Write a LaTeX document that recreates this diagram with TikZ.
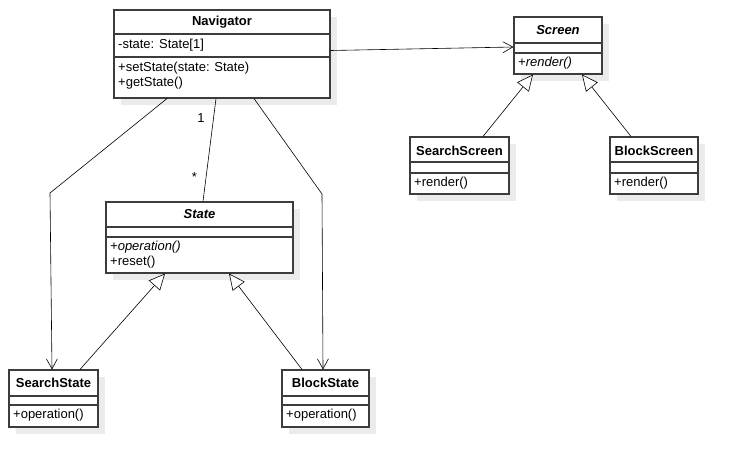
\documentclass[tikz,border=0pt]{standalone}
\usepackage{fontspec}
\setmainfont{Liberation Sans}
\usetikzlibrary{arrows.meta,fit}
\definecolor{shadowc}{HTML}{EBEBEB}
\definecolor{boxc}{HTML}{3C3C3C}
\tikzset{
  boxst/.style={draw=boxc, line width=1.1pt, fill=white, inner sep=0pt},
  divst/.style={draw=boxc, line width=1.1pt},
  txt/.style={anchor=west, inner sep=1pt, font=\fontsize{13}{15}\selectfont},
  ttl/.style={inner sep=1pt, font=\fontsize{13}{15}\selectfont\bfseries},
  assoc/.style={draw=black, line width=0.6pt, -{Straight Barb[length=10pt,width=11pt,line width=0.6pt]}},
  plainline/.style={draw=black, line width=0.6pt},
  gen/.style={draw=black, line width=0.6pt, -{Triangle[open,length=16pt,width=15pt,line width=0.6pt,fill=white]}},
  mult/.style={inner sep=1pt, font=\fontsize{13}{15}\selectfont}
}
\newcommand\umlclass[7]{%
  \fill[shadowc] (#2+7,#3+7) rectangle (#4+7,#5+7);
  \node[boxst, fit={(#2,#3) (#4,#5)}] (#1) {};
  \draw[divst] (#2,#6) -- (#4,#6);
  \draw[divst] (#2,#7) -- (#4,#7);
}
\begin{document}
\begin{tikzpicture}[x=1pt,y=-1pt]
\useasboundingbox (0,0) rectangle (739,467);
% classes
\umlclass{nav}{114}{10}{330}{98}{34}{57}
\node[ttl] (navt) at (222,22.5) {Navigator};
\node[txt] (nava) at (117,45.5) {-state: State[1]};
\node[txt] (navo1) at (117,68.5) {+setState(state: State)};
\node[txt] (navo2) at (117,83) {+getState()};

\umlclass{scr}{514}{17}{602}{74}{43}{53}
\node[ttl, font=\fontsize{13}{15}\selectfont\bfseries\itshape] (scrt) at (558,30.5) {Screen};
\node[txt, font=\fontsize{13}{15}\selectfont\itshape] (scro) at (517,63) {+render()};

\umlclass{ss}{410}{137}{509}{194}{162}{173}
\node[ttl] (sst) at (459.5,150.5) {SearchScreen};
\node[txt] (sso) at (413,183) {+render()};

\umlclass{bs}{610}{137}{698}{194}{162}{173}
\node[ttl] (bst) at (654,150.5) {BlockScreen};
\node[txt] (bso) at (613,183) {+render()};

\umlclass{st}{106}{202}{293}{273}{227}{237}
\node[ttl, font=\fontsize{13}{15}\selectfont\bfseries\itshape] (stt) at (199.5,214) {State};
\node[txt, font=\fontsize{13}{15}\selectfont\itshape] (sto1) at (109,247.5) {+operation()};
\node[txt] (sto2) at (109,262) {+reset()};

\umlclass{sst}{9}{370}{98}{427}{396}{405}
\node[ttl] (sstt) at (53.5,383) {SearchState};
\node[txt] (ssto) at (12,415.5) {+operation()};

\umlclass{bst}{282}{370}{369}{427}{396}{405}
\node[ttl] (bstt) at (325.5,383) {BlockState};
\node[txt] (bsto) at (285,415.5) {+operation()};

% connectors
\draw[assoc] (nav.east |- 0,50.5) -- (scr.west |- 0,47);
\draw[gen] (ss.north -| 483,0) -- (scr.south -| 533,0);
\draw[gen] (bs.north -| 631,0) -- (scr.south -| 582,0);
\draw[gen] (sst.north -| 80,0) -- (st.south -| 165,0);
\draw[gen] (bst.north -| 302,0) -- (st.south -| 229,0);

\coordinate (b1) at (50,193);
\coordinate (b2) at (322,194);
\draw[assoc] (nav.south -| 167,0) -- (b1) -- (sst.north -| 52,0);
\draw[assoc] (nav.south -| 254,0) -- (b2) -- (bst.north -| 323,0);
\draw[plainline] (nav.south -| 216,0) -- (st.north -| 203,0);
\node[mult] (m1) at (201,118) {1};
\node[mult] (m2) at (194.5,177) {*};
\end{tikzpicture}
\end{document}
